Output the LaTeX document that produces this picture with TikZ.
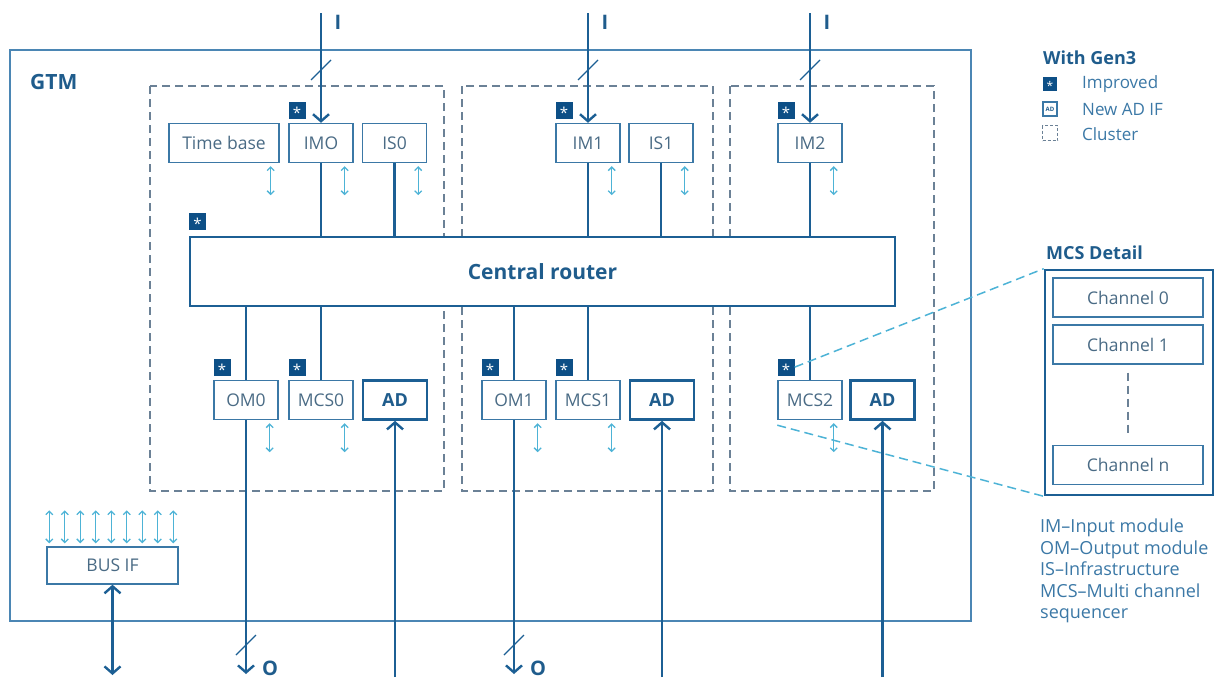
\documentclass[tikz,border=0pt]{standalone}
\usepackage{fontspec}
\setmainfont{Open Sans}
\usetikzlibrary{positioning, arrows.meta, calc}

\definecolor{gtmdark}{HTML}{1C5F94}
\definecolor{gtmframe}{HTML}{4B86B4}
\definecolor{boxline}{HTML}{3B78A6}
\definecolor{boxtext}{HTML}{4A6B85}
\definecolor{boldtext}{HTML}{1F5C8C}
\definecolor{lightblue}{HTML}{4DB3D6}
\definecolor{starblue}{HTML}{0D4F86}
\definecolor{clustergray}{HTML}{6B8196}

\newcommand{\starmark}{\raisebox{-0.58em}[0pt][0pt]{*}}

\begin{document}
\begin{tikzpicture}[x=1pt, y=-1pt,
  box/.style={draw=boxline, line width=1.4pt, fill=white, minimum width=64pt, minimum height=39pt, inner sep=0pt, font=\fontsize{17.5}{20}\selectfont, text=boxtext},
  adbox/.style={box, draw=gtmdark, line width=2.6pt, font=\fontsize{18}{20}\selectfont\bfseries, text=boldtext},
  improved/.style={fill=starblue, minimum size=17pt, inner sep=0pt, text=white, font=\fontsize{15}{15}\selectfont, anchor=south west},
  bus/.style={draw=gtmdark, line width=2.4pt},
  busarrow/.style={bus, -{Straight Barb[length=7pt, width=16pt]}},
  slash/.style={draw=gtmdark, line width=1.2pt},
  regarrow/.style={draw=lightblue, line width=1.3pt, {Straight Barb[length=3.5pt, width=7pt]}-{Straight Barb[length=3.5pt, width=7pt]}},
  cluster/.style={draw=clustergray, line width=1.4pt, dash pattern=on 8pt off 5pt},
  zoomline/.style={draw=lightblue, line width=1.5pt, dash pattern=on 9pt off 5pt},
  iolabel/.style={inner sep=0pt, text=boldtext, font=\fontsize{20}{20}\selectfont\bfseries},
  title/.style={inner sep=0pt, anchor=west, text=boldtext, font=\fontsize{18}{20}\selectfont\bfseries},
  legtext/.style={inner sep=0pt, anchor=west, text=boxline, font=\fontsize{17}{20}\selectfont}]
\useasboundingbox (0,0) rectangle (1231,678);

\draw[draw=gtmframe, line width=1.5pt] (10,50) rectangle (971,621);
\node[title, font=\fontsize{21}{22}\selectfont\bfseries] (gtm) at (30,82) {GTM};

\draw[cluster] (150,86) rectangle (444,491);
\draw[cluster] (462,86) rectangle (713,491);
\draw[cluster] (730,86) rectangle (934,491);

\node[draw=gtmdark, line width=2.6pt, fill=white, minimum width=705pt, minimum height=69pt, inner sep=0pt,
  text=boldtext, font=\fontsize{21}{22}\selectfont\bfseries] (router) at (542.5,271.5) {Central router};
\node[improved] (srouter) at ([yshift=6pt]router.north west) {\starmark};

% input side
\node[box, minimum width=110pt] (tb) at (224,143) {Time base};
\node[box] (imo) at (321,143) {IMO};
\node[box] (is0) at (394.5,143) {IS0};
\node[box] (im1) at (588,143) {IM1};
\node[box] (is1) at (661,143) {IS1};
\node[box] (im2) at (810,143) {IM2};

\foreach \n in {imo, im1, im2}
  \node[improved] (s\n) at ([yshift=4pt]\n.north west) {\starmark};
\foreach \n in {tb, imo, is0, im1, is1, im2}
  \draw[regarrow] ([xshift=-9pt, yshift=-3pt]\n.south east) -- ++(0,29);
\foreach \n in {imo, is0, im1, is1, im2}
  \draw[bus] (\n) -- (\n |- router.north);

\foreach \n/\x in {imo/321, im1/588, im2/810} {
  \coordinate (in\n) at (\x,13);
  \draw[busarrow] (in\n) -- (\n);
  \draw[slash] ($(in\n)+(-10,67)$) -- ++(20,-20);
  \node[iolabel] (l\n) at (\x+17,22) {I};
}

% output side
\node[box] (om0) at (246,400) {OM0};
\node[box] (mcs0) at (321,400) {MCS0};
\node[adbox] (ad0) at (395,400) {AD};
\node[box] (om1) at (514,400) {OM1};
\node[box] (mcs1) at (588,400) {MCS1};
\node[adbox] (ad1) at (662,400) {AD};
\node[box] (mcs2) at (810,400) {MCS2};
\node[adbox] (ad2) at (882.5,400) {AD};

\foreach \n in {om0, mcs0, om1, mcs1, mcs2} {
  \node[improved] (s\n) at ([yshift=4pt]\n.north west) {\starmark};
  \draw[regarrow] ([xshift=-9pt, yshift=-3pt]\n.south east) -- ++(0,29);
  \draw[bus] (router.south -| \n) -- (\n);
}

\foreach \n/\x in {om0/246, om1/514} {
  \coordinate (out\n) at (\x,674);
  \draw[busarrow] (\n) -- (out\n);
  \draw[slash] ($(out\n)+(-10,-19)$) -- ++(20,-20);
  \node[iolabel, anchor=west] (l\n) at ($(out\n)+(16,-6)$) {O};
}
\foreach \n in {ad0, ad1, ad2} {
  \coordinate (in\n) at (\n |- 0,677);
  \draw[busarrow] (in\n) -- (\n);
}

% bus interface
\node[box, minimum width=131pt, minimum height=37pt] (busif) at (112.5,565.5) {BUS IF};
\foreach \i in {0,...,8}
  \draw[regarrow] ([xshift=\i*15.5pt+3pt, yshift=3pt]busif.north west) -- ++(0,-33);
\coordinate (busout) at (112.5,675);
\draw[bus, {Straight Barb[length=7pt, width=16pt]}-{Straight Barb[length=7pt, width=16pt]}] (busif) -- (busout);

% MCS detail
\node[title] (mcstitle) at (1046,253) {MCS Detail};
\node[draw=gtmdark, line width=2.6pt, minimum width=168pt, minimum height=225pt, inner sep=0pt] (mcsd) at (1129,382.5) {};
\node[box, minimum width=150pt] (ch0) at (1128,297.5) {Channel 0};
\node[box, minimum width=150pt] (ch1) at (1128,344.5) {Channel 1};
\node[box, minimum width=150pt] (chn) at (1128,465) {Channel n};
\draw[draw=clustergray, line width=1.3pt, dash pattern=on 8pt off 5pt] ([yshift=-8pt]ch1.south) -- ([yshift=10pt]chn.north);
\draw[zoomline] (smcs2.east) -- (mcsd.north west);
\draw[zoomline] ([yshift=-5pt]mcs2.south west) -- (mcsd.south west);

% legend
\node[title] (lgtitle) at (1043,58) {With Gen3};
\node[improved, minimum size=14pt, anchor=center, font=\fontsize{12}{12}\selectfont] (lgstar) at (1050,84) {\starmark};
\node[legtext] (lgimp) at (1082,84) {Improved};
\node[draw=boxline, line width=1.2pt, minimum size=14pt, inner sep=0pt, text=boldtext, font=\fontsize{6}{6}\selectfont\bfseries] (lgad) at (1050,109) {AD};
\node[legtext] (lgnew) at (1082,109) {New AD IF};
\node[draw=clustergray, line width=1.2pt, dash pattern=on 3pt off 2pt, minimum size=15pt, inner sep=0pt] (lgcl) at (1050,133) {};
\node[legtext] (lgclu) at (1082,134) {Cluster};

\node[legtext, anchor=north west, align=left, font=\fontsize{18}{21.5}\selectfont] (notes) at (1040,519)
  {IM–Input module\\OM–Output module\\IS–Infrastructure\\MCS–Multi channel\\sequencer};
\end{tikzpicture}
\end{document}
